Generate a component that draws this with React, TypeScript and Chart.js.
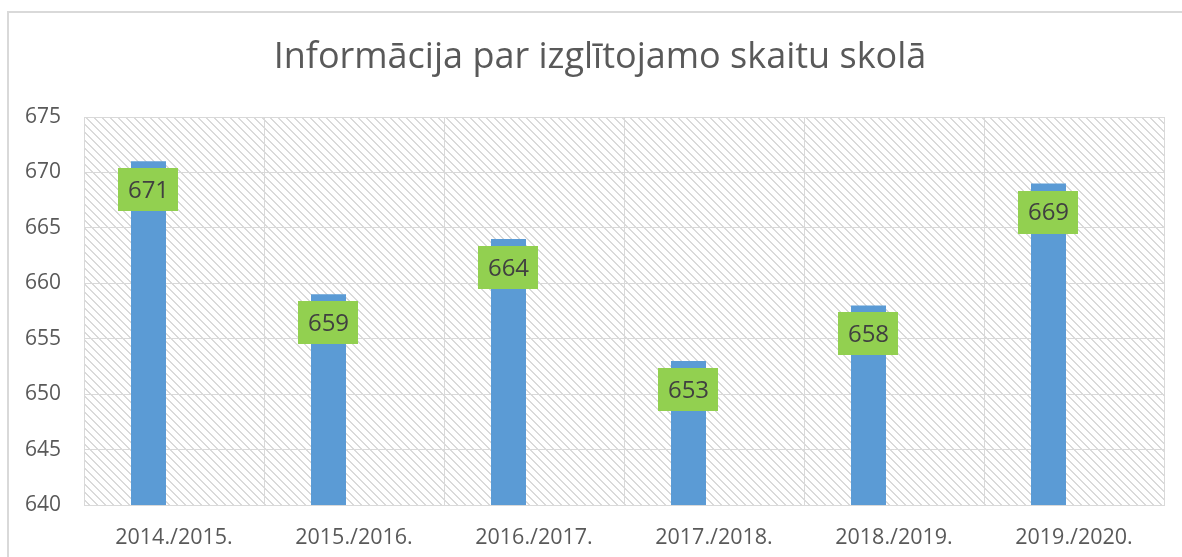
import React, { useEffect, useRef } from "react";
import { Chart, registerables } from "chart.js";

Chart.register(...registerables);

const TITLE = "Informācija par izglītojamo skaitu skolā";
const categories = ["2014./2015.", "2015./2016.", "2016./2017.", "2017./2018.", "2018./2019.", "2019./2020."];
const values = [671, 659, 664, 653, 658, 669];
const emptySeries = [null, null, null, null, null, null];
const yMin = 640;
const yMax = 675;
const yStep = 5;

const FONT = "'Open Sans', 'DejaVu Sans', sans-serif";

function makePattern(ctx: CanvasRenderingContext2D) {
  const tile = document.createElement("canvas");
  const s = 8;
  tile.width = s;
  tile.height = s;
  const t = tile.getContext("2d")!;
  t.fillStyle = "#ffffff";
  t.fillRect(0, 0, s, s);
  t.fillStyle = "#dadada";
  for (let i = 0; i < s; i++) {
    t.fillRect(i, i, 1, 1);
    t.fillRect((i + 1) % s, i, 1, 1);
  }
  return ctx.createPattern(tile, "repeat");
}

const bgPlugin = {
  id: "bgPlugin",
  beforeDraw(chart: any) {
    const { ctx, chartArea } = chart;
    ctx.save();
    ctx.fillStyle = "#ffffff";
    ctx.fillRect(0, 0, chart.width, chart.height);
    ctx.strokeStyle = "#d9d9d9";
    ctx.lineWidth = 2;
    ctx.strokeRect(8, 12, chart.width + 20, chart.height + 20);
    const pat = makePattern(ctx);
    if (pat) {
      ctx.fillStyle = pat;
      ctx.fillRect(chartArea.left, chartArea.top, chartArea.right - chartArea.left, chartArea.bottom - chartArea.top);
    }
    ctx.fillStyle = "#595959";
    ctx.font = `36px ${FONT}`;
    ctx.textAlign = "center";
    ctx.textBaseline = "middle";
    ctx.fillText(TITLE, 600, 58);
    ctx.restore();
  },
};

const labelPlugin = {
  id: "labelPlugin",
  afterDatasetsDraw(chart: any) {
    const { ctx } = chart;
    const meta = chart.getDatasetMeta(0);
    ctx.save();
    meta.data.forEach((el: any, i: number) => {
      const x = el.x;
      const y = el.y;
      ctx.fillStyle = "#92D050";
      ctx.fillRect(Math.round(x - 30), Math.round(y + 7), 60, 43);
      ctx.fillStyle = "#404040";
      ctx.font = `24px ${FONT}`;
      ctx.textAlign = "center";
      ctx.textBaseline = "middle";
      ctx.fillText(String(values[i]), x, y + 30);
    });
    ctx.restore();
  },
};

export default function App() {
  const ref = useRef<HTMLCanvasElement>(null);
  useEffect(() => {
    if (!ref.current) return;
    const chart = new Chart(ref.current, {
      type: "bar",
      data: {
        labels: categories,
        datasets: [
          {
            label: "Izglītojamie",
            data: values,
            backgroundColor: "#5B9BD5",
            categoryPercentage: 0.5667,
            barPercentage: 0.686,
          },
          {
            label: "",
            data: emptySeries as any,
            backgroundColor: "#ED7D31",
            categoryPercentage: 0.5667,
            barPercentage: 0.686,
          },
        ],
      },
      options: {
        responsive: false,
        animation: false,
        devicePixelRatio: 1,
        layout: { padding: { left: 0, right: 18, top: 117, bottom: 0 } },
        plugins: {
          legend: { display: false },
          title: { display: false },
          tooltip: { enabled: false },
        },
        scales: {
          x: {
            grid: { color: "#d9d9d9", lineWidth: 1, drawTicks: false, offset: true },
            border: { color: "#d9d9d9", width: 1 },
            ticks: { color: "#595959", font: { family: FONT, size: 21.5 }, padding: 20 },
            afterFit: (scale: any) => {
              scale.height = 52;
            },
          },
          y: {
            min: yMin,
            max: yMax,
            grid: { color: "#d9d9d9", lineWidth: 1, drawTicks: false },
            border: { color: "#d9d9d9", width: 1 },
            ticks: { stepSize: yStep, color: "#595959", font: { family: FONT, size: 21 }, padding: 23 },
            afterFit: (scale: any) => {
              scale.width = 84;
            },
          },
        },
      },
      plugins: [bgPlugin, labelPlugin],
    });
    return () => chart.destroy();
  }, []);
  return (
    <div style={{ position: "fixed", left: 0, top: 0, width: 1182, height: 557, background: "#fff" }}>
      <canvas ref={ref} width={1182} height={557} />
    </div>
  );
}
